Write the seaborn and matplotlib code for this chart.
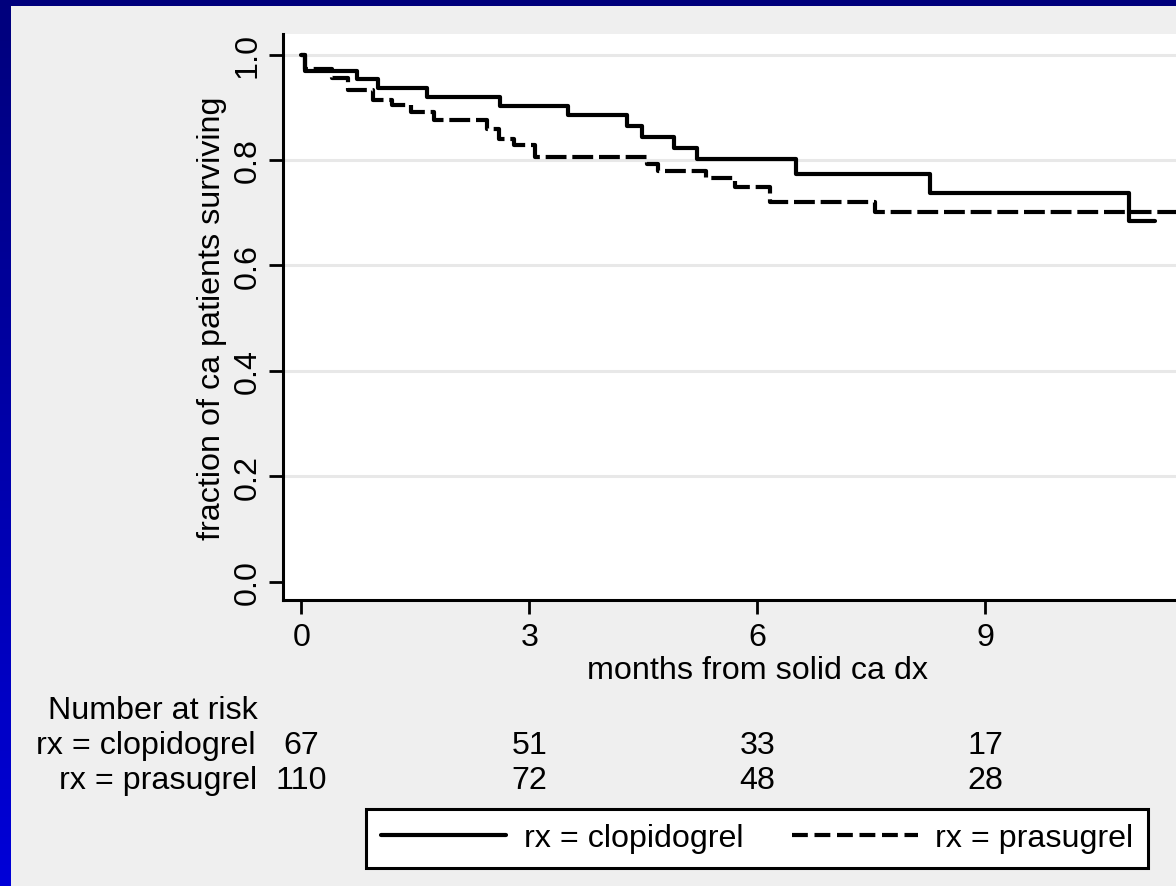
import numpy as np
import pandas as pd
import matplotlib
matplotlib.use("Agg")
import matplotlib.pyplot as plt
from matplotlib.lines import Line2D
import seaborn as sns

# Kaplan-Meier steps (months, fraction surviving)
clop_months = [0, 0.05, 0.73, 1.01, 1.65, 2.62, 3.51, 4.29, 4.48, 4.90, 5.21, 6.51, 8.27, 10.89, 11.24]
clop_surv = [1.0, 0.969, 0.953, 0.936, 0.920, 0.903, 0.886, 0.865, 0.844, 0.823, 0.802, 0.774, 0.737, 0.685, 0.685]

pras_months = [0, 0.05, 0.40, 0.62, 0.95, 1.20, 1.45, 1.75, 2.45, 2.60, 2.80, 3.08, 4.55, 4.70, 5.32, 5.71, 6.17, 7.55, 11.8]
pras_surv = [1.0, 0.973, 0.955, 0.932, 0.914, 0.905, 0.891, 0.875, 0.859, 0.840, 0.829, 0.805, 0.793, 0.779, 0.765, 0.748, 0.720, 0.701, 0.701]

groups = ["rx = clopidogrel", "rx = prasugrel"]
risk_months = [0, 3, 6, 9]
risk_clop = [67, 51, 33, 17]
risk_pras = [110, 72, 48, 28]
y_ticks = [0.0, 0.2, 0.4, 0.6, 0.8, 1.0]
x_ticks = [0, 3, 6, 9, 12]

df = pd.concat([
    pd.DataFrame({"months": clop_months, "surv": clop_surv, "group": groups[0]}),
    pd.DataFrame({"months": pras_months, "surv": pras_surv, "group": groups[1]}),
])

sns.set_style("white")
plt.rcParams["font.family"] = ["Liberation Sans", "DejaVu Sans"]
plt.rcParams["text.color"] = "black"
plt.rcParams["axes.labelcolor"] = "black"
plt.rcParams["xtick.color"] = "black"
plt.rcParams["ytick.color"] = "black"
FS = 23.2
W, H = 1176, 887

fig = plt.figure(figsize=(W / 100, H / 100), dpi=100, facecolor="#efefef")

# slide border: navy top strip and blue gradient on the left
top = fig.add_axes([0, 1 - 7 / H, 1, 7 / H])
top.set_axis_off()
top.add_patch(plt.Rectangle((0, 0), 1, 1, color="#00007c", transform=top.transAxes))
left = fig.add_axes([0, 0, 10 / W, 1])
grad = np.linspace(0, 1, 256).reshape(-1, 1)
cmap = matplotlib.colors.LinearSegmentedColormap.from_list("b", ["#0000d8", "#00007c"])
left.imshow(grad, aspect="auto", cmap=cmap, origin="lower", extent=[0, 1, 0, 1])
left.set_axis_off()

# the plot region runs past the right edge of the slide, as in the original
x0, x1 = 283, W
y_top, y_bot = 35, 601
ax = fig.add_axes([x0 / W, 1 - y_bot / H, (x1 - x0) / W, (y_bot - y_top) / H])
ax.set_facecolor("white")

for v in y_ticks[1:]:
    ax.axhline(v, color="#e8e8e8", lw=2.2, zorder=0)

sns.lineplot(data=df, x="months", y="surv", hue="group", style="group",
             palette=["black", "black"], dashes={groups[0]: "", groups[1]: (5, 1.4)},
             drawstyle="steps-post", linewidth=3.0, estimator=None, sort=False,
             legend=False, ax=ax)

ax.set_xticks(x_ticks)
ax.set_yticks(y_ticks)
ax.set_xlim(-0.24, 11.51)
ax.set_ylim(-0.035, 1.039)
ax.set_yticklabels([f"{v:.1f}" for v in y_ticks], rotation=90, va="center")
ax.tick_params(axis="both", labelsize=FS, length=10, width=2, color="black",
               labelcolor="black", direction="out", left=True, bottom=True)
ax.tick_params(axis="x", pad=6)
ax.tick_params(axis="y", pad=4.5)
ax.set_xlabel("months from solid ca dx", fontsize=FS)
ax.set_ylabel("fraction of ca patients surviving", fontsize=FS, labelpad=4)
# x title is centred on the full time axis (0-12), not the cropped part
ax.xaxis.set_label_coords(6, -0.097, transform=matplotlib.transforms.blended_transform_factory(ax.transData, ax.transAxes))
for s in ["top", "right"]:
    ax.spines[s].set_visible(False)
for s in ["left", "bottom"]:
    ax.spines[s].set_color("black")
    ax.spines[s].set_linewidth(2.2)

# number at risk table
trans = matplotlib.transforms.blended_transform_factory(ax.transData, fig.transFigure)
fig.text(258 / W, 1 - 711 / H, "Number at risk", ha="right", va="center", fontsize=FS)
fig.text(256 / W, 1 - 746 / H, groups[0], ha="right", va="center", fontsize=FS)
fig.text(257 / W, 1 - 781 / H, groups[1], ha="right", va="center", fontsize=FS)
for m, a, b in zip(risk_months, risk_clop, risk_pras):
    ax.text(m, 1 - 746 / H, str(a), transform=trans, ha="center", va="center", fontsize=FS)
    ax.text(m, 1 - 781 / H, str(b), transform=trans, ha="center", va="center", fontsize=FS)

handles = [Line2D([], [], color="black", lw=3.0),
           Line2D([], [], color="black", lw=3.0, dashes=(3.8, 1.6))]
leg = fig.legend(handles, groups, loc="center", bbox_to_anchor=(757 / W, 1 - 839 / H),
                 ncol=2, fontsize=FS, frameon=True, fancybox=False, handlelength=3.9,
                 handletextpad=0.55, columnspacing=1.5, borderpad=0.45, framealpha=1)
leg.get_frame().set_edgecolor("black")
leg.get_frame().set_linewidth(2.2)

fig.savefig("out.png", dpi=100, facecolor=fig.get_facecolor())
